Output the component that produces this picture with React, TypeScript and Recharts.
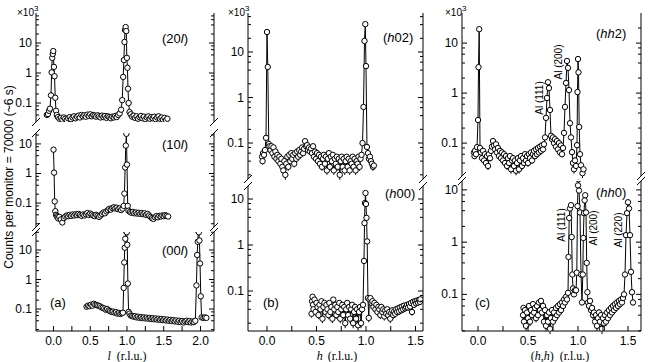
import { ErrorBar, Line, LineChart, XAxis, YAxis } from "recharts";

type Pair = [number, number];

// (20l) scan, counts x10^3 vs l
const l20: Pair[] = [
  [-0.09, 0.04], [-0.075, 0.043], [-0.06, 0.055], [-0.048, 0.065], [-0.034, 0.18], [-0.025, 1.05],
  [-0.017, 3.2], [-0.01, 4.3], [-0.003, 5.4], [0.006, 1.6], [0.014, 0.78], [0.024, 0.15],
  [0.034, 0.055], [0.045, 0.04], [0.06, 0.034], [0.08, 0.03], [0.1, 0.032], [0.12, 0.028],
  [0.14, 0.033], [0.16, 0.03], [0.18, 0.027], [0.2, 0.031], [0.22, 0.034], [0.24, 0.029],
  [0.26, 0.033], [0.28, 0.036], [0.3, 0.031], [0.32, 0.035], [0.34, 0.038], [0.36, 0.033],
  [0.38, 0.04], [0.4, 0.036], [0.42, 0.039], [0.44, 0.035], [0.46, 0.041], [0.48, 0.037],
  [0.5, 0.042], [0.52, 0.036], [0.54, 0.04], [0.56, 0.038], [0.58, 0.035], [0.6, 0.039],
  [0.62, 0.036], [0.64, 0.033], [0.66, 0.038], [0.68, 0.034], [0.7, 0.037], [0.72, 0.032],
  [0.74, 0.036], [0.76, 0.034], [0.78, 0.031], [0.8, 0.035], [0.82, 0.033], [0.84, 0.037],
  [0.86, 0.034], [0.88, 0.04], [0.9, 0.045], [0.92, 0.06], [0.935, 0.125], [0.948, 0.74],
  [0.958, 2.7], [0.966, 10.8], [0.974, 27], [0.982, 34], [0.99, 25], [0.998, 3.2],
  [1.006, 1.5], [1.014, 0.3], [1.022, 0.1], [1.035, 0.05], [1.05, 0.042], [1.07, 0.035],
  [1.09, 0.038], [1.11, 0.032], [1.13, 0.036], [1.15, 0.03], [1.17, 0.034], [1.19, 0.037],
  [1.21, 0.031], [1.23, 0.035], [1.25, 0.029], [1.27, 0.033], [1.29, 0.036], [1.31, 0.03],
  [1.33, 0.034], [1.35, 0.031], [1.37, 0.035], [1.39, 0.029], [1.41, 0.033], [1.43, 0.036],
  [1.45, 0.03], [1.47, 0.033], [1.49, 0.028], [1.51, 0.032], [1.53, 0.027], [1.55, 0.03],
];

// (10l) scan
const l10: Pair[] = [
  [0.0, 6.4], [0.008, 1.07], [0.016, 0.114], [0.025, 0.053], [0.035, 0.04], [0.045, 0.036],
  [0.055, 0.033], [0.065, 0.03], [0.08, 0.034], [0.1, 0.028], [0.12, 0.022], [0.14, 0.031],
  [0.16, 0.035], [0.18, 0.038], [0.2, 0.036], [0.22, 0.04], [0.24, 0.037], [0.26, 0.041],
  [0.28, 0.038], [0.3, 0.042], [0.32, 0.039], [0.34, 0.043], [0.36, 0.04], [0.38, 0.037],
  [0.4, 0.041], [0.42, 0.038], [0.44, 0.042], [0.46, 0.046], [0.48, 0.04], [0.5, 0.044],
  [0.52, 0.041], [0.54, 0.038], [0.56, 0.036], [0.58, 0.04], [0.6, 0.037], [0.62, 0.034],
  [0.64, 0.038], [0.66, 0.043], [0.68, 0.048], [0.7, 0.045], [0.72, 0.052], [0.74, 0.058],
  [0.76, 0.064], [0.78, 0.06], [0.8, 0.068], [0.82, 0.072], [0.84, 0.066], [0.86, 0.07],
  [0.88, 0.062], [0.9, 0.066], [0.92, 0.058], [0.94, 0.065], [0.955, 0.08], [0.965, 0.21],
  [0.975, 1.6], [0.984, 8.8], [0.992, 22], [1.0, 2.0], [1.01, 0.08], [1.02, 0.055],
  [1.04, 0.05], [1.06, 0.047], [1.08, 0.05], [1.1, 0.045], [1.12, 0.048], [1.14, 0.044],
  [1.16, 0.047], [1.18, 0.043], [1.2, 0.046], [1.22, 0.042], [1.24, 0.045], [1.26, 0.04],
  [1.28, 0.043], [1.3, 0.038], [1.32, 0.034], [1.34, 0.031], [1.36, 0.029], [1.38, 0.033],
  [1.4, 0.036], [1.42, 0.033], [1.44, 0.037], [1.46, 0.035], [1.48, 0.038], [1.5, 0.036],
  [1.52, 0.039], [1.54, 0.037], [1.56, 0.035],
];

// (00l) scan
const l00: Pair[] = [
  [0.45, 0.12], [0.47, 0.13], [0.49, 0.125], [0.51, 0.14], [0.53, 0.13], [0.55, 0.15],
  [0.57, 0.14], [0.59, 0.135], [0.61, 0.13], [0.63, 0.125], [0.65, 0.115], [0.67, 0.11],
  [0.69, 0.105], [0.71, 0.095], [0.73, 0.1], [0.75, 0.09], [0.77, 0.085], [0.79, 0.08],
  [0.81, 0.082], [0.83, 0.075], [0.85, 0.078], [0.87, 0.07], [0.89, 0.074], [0.91, 0.068],
  [0.93, 0.072], [0.945, 0.075], [0.955, 0.52], [0.963, 3.8], [0.97, 12], [0.977, 24],
  [0.984, 45], [0.99, 50], [0.997, 40], [1.004, 15], [1.012, 0.73], [1.022, 0.08],
  [1.035, 0.07], [1.05, 0.06], [1.07, 0.058], [1.09, 0.055], [1.11, 0.057], [1.13, 0.052],
  [1.15, 0.055], [1.17, 0.05], [1.19, 0.053], [1.21, 0.049], [1.23, 0.052], [1.25, 0.048],
  [1.27, 0.051], [1.29, 0.047], [1.31, 0.05], [1.33, 0.046], [1.35, 0.049], [1.37, 0.045],
  [1.39, 0.048], [1.41, 0.044], [1.43, 0.047], [1.45, 0.043], [1.47, 0.046], [1.49, 0.042],
  [1.51, 0.045], [1.53, 0.041], [1.55, 0.044], [1.57, 0.04], [1.59, 0.043], [1.61, 0.039],
  [1.63, 0.042], [1.65, 0.038], [1.67, 0.041], [1.69, 0.037], [1.71, 0.04], [1.73, 0.036],
  [1.75, 0.039], [1.77, 0.035], [1.79, 0.038], [1.81, 0.04], [1.83, 0.036], [1.85, 0.039],
  [1.87, 0.035], [1.89, 0.038], [1.91, 0.036], [1.93, 0.04], [1.945, 0.63], [1.955, 6.8],
  [1.963, 19], [1.97, 44], [1.978, 40], [1.986, 21], [1.994, 3.5], [2.004, 0.27],
  [2.015, 0.052], [2.04, 0.05], [2.06, 0.052], [2.08, 0.05],
];

// (h02) scan
const h02: Pair[] = [
  [-0.05, 0.05], [-0.045, 0.04], [-0.04, 0.06], [-0.03, 0.055], [-0.02, 0.07], [-0.01, 0.13],
  [0.0, 27.5], [0.008, 4.7], [0.018, 0.095], [0.025, 0.085], [0.035, 0.07], [0.045, 0.085],
  [0.055, 0.06], [0.065, 0.08], [0.075, 0.05], [0.085, 0.065], [0.095, 0.045], [0.105, 0.055],
  [0.115, 0.04], [0.125, 0.05], [0.135, 0.035], [0.145, 0.045], [0.155, 0.03], [0.165, 0.025],
  [0.175, 0.04], [0.185, 0.02], [0.195, 0.035], [0.205, 0.05], [0.215, 0.03], [0.225, 0.055],
  [0.235, 0.04], [0.245, 0.06], [0.255, 0.045], [0.265, 0.055], [0.275, 0.035], [0.285, 0.06],
  [0.295, 0.045], [0.305, 0.065], [0.315, 0.05], [0.325, 0.07], [0.335, 0.055], [0.345, 0.065],
  [0.355, 0.08], [0.365, 0.06], [0.375, 0.075], [0.385, 0.11], [0.395, 0.085], [0.405, 0.09],
  [0.415, 0.07], [0.425, 0.08], [0.435, 0.065], [0.445, 0.075], [0.455, 0.06], [0.465, 0.085],
  [0.475, 0.05], [0.485, 0.065], [0.495, 0.045], [0.505, 0.06], [0.515, 0.04], [0.525, 0.055],
  [0.535, 0.035], [0.545, 0.05], [0.555, 0.03], [0.565, 0.045], [0.575, 0.055], [0.585, 0.035],
  [0.595, 0.05], [0.605, 0.025], [0.615, 0.045], [0.625, 0.06], [0.635, 0.03], [0.645, 0.05],
  [0.655, 0.04], [0.665, 0.055], [0.675, 0.025], [0.685, 0.045], [0.695, 0.035], [0.705, 0.05],
  [0.715, 0.03], [0.725, 0.045], [0.735, 0.02], [0.745, 0.04], [0.755, 0.05], [0.765, 0.03],
  [0.775, 0.045], [0.785, 0.025], [0.795, 0.04], [0.805, 0.05], [0.815, 0.03], [0.825, 0.045],
  [0.835, 0.025], [0.845, 0.04], [0.855, 0.035], [0.865, 0.05], [0.875, 0.03], [0.885, 0.045],
  [0.895, 0.025], [0.905, 0.04], [0.915, 0.035], [0.925, 0.05], [0.935, 0.03], [0.945, 0.045],
  [0.955, 0.055], [0.965, 0.1], [0.975, 0.62], [0.985, 17.5], [0.993, 41], [1.0, 4.9],
  [1.01, 0.082], [1.02, 0.06], [1.03, 0.045], [1.04, 0.05], [1.05, 0.04], [1.06, 0.035],
  [1.07, 0.03], [1.08, 0.032],
];

// (h00) scan
const h00: Pair[] = [
  [0.45, 0.032], [0.455, 0.06], [0.46, 0.075], [0.465, 0.05], [0.47, 0.04], [0.48, 0.065],
  [0.49, 0.035], [0.5, 0.055], [0.51, 0.045], [0.52, 0.03], [0.53, 0.05], [0.54, 0.04],
  [0.55, 0.06], [0.56, 0.025], [0.57, 0.045], [0.58, 0.055], [0.59, 0.035], [0.6, 0.05],
  [0.61, 0.04], [0.62, 0.03], [0.63, 0.055], [0.64, 0.035], [0.65, 0.045], [0.66, 0.025],
  [0.67, 0.065], [0.68, 0.04], [0.69, 0.05], [0.7, 0.03], [0.71, 0.045], [0.72, 0.035],
  [0.73, 0.055], [0.74, 0.025], [0.75, 0.04], [0.76, 0.05], [0.77, 0.03], [0.78, 0.045],
  [0.79, 0.02], [0.8, 0.04], [0.81, 0.055], [0.82, 0.03], [0.83, 0.045], [0.84, 0.025],
  [0.85, 0.04], [0.86, 0.05], [0.87, 0.02], [0.88, 0.035], [0.89, 0.045], [0.9, 0.025],
  [0.91, 0.04], [0.92, 0.018], [0.93, 0.035], [0.94, 0.045], [0.95, 0.02], [0.96, 0.04],
  [0.97, 0.05], [0.98, 0.45], [0.985, 3], [0.99, 8.2], [0.995, 13.5], [1.0, 7.8],
  [1.005, 3.9], [1.012, 1.2], [1.02, 0.07], [1.028, 0.026], [1.035, 0.065], [1.045, 0.07],
  [1.055, 0.055], [1.065, 0.06], [1.075, 0.045], [1.085, 0.055], [1.095, 0.04], [1.105, 0.05],
  [1.115, 0.035], [1.125, 0.045], [1.135, 0.04], [1.145, 0.03], [1.155, 0.045], [1.165, 0.035],
  [1.175, 0.04], [1.185, 0.028], [1.195, 0.038], [1.205, 0.032], [1.215, 0.04], [1.225, 0.03],
  [1.235, 0.035], [1.245, 0.025], [1.255, 0.033], [1.265, 0.038], [1.275, 0.03], [1.285, 0.036],
  [1.295, 0.032], [1.305, 0.04], [1.315, 0.035], [1.325, 0.042], [1.335, 0.036], [1.345, 0.044],
  [1.355, 0.038], [1.365, 0.046], [1.375, 0.04], [1.385, 0.048], [1.395, 0.042], [1.405, 0.045],
  [1.415, 0.05], [1.425, 0.044], [1.435, 0.052], [1.445, 0.046], [1.455, 0.055], [1.465, 0.035],
  [1.475, 0.058], [1.485, 0.05], [1.495, 0.06], [1.505, 0.054], [1.515, 0.062], [1.525, 0.056],
  [1.535, 0.064], [1.545, 0.058], [1.55, 0.066],
];

// (hh2) scan
const hh2: Pair[] = [
  [-0.04, 0.065], [-0.035, 0.055], [-0.03, 0.07], [-0.02, 0.06], [-0.01, 0.083], [0.0, 0.29],
  [0.005, 3.3], [0.012, 19], [0.02, 0.08], [0.03, 0.065], [0.04, 0.05], [0.05, 0.07],
  [0.06, 0.045], [0.07, 0.06], [0.08, 0.04], [0.09, 0.055], [0.1, 0.035], [0.11, 0.06],
  [0.12, 0.05], [0.13, 0.07], [0.14, 0.085], [0.15, 0.11], [0.16, 0.09], [0.17, 0.075],
  [0.18, 0.095], [0.19, 0.065], [0.2, 0.08], [0.21, 0.055], [0.22, 0.07], [0.23, 0.05],
  [0.24, 0.065], [0.25, 0.045], [0.26, 0.06], [0.27, 0.04], [0.28, 0.055], [0.29, 0.035],
  [0.3, 0.05], [0.31, 0.04], [0.32, 0.055], [0.33, 0.03], [0.34, 0.045], [0.35, 0.05],
  [0.36, 0.035], [0.37, 0.045], [0.38, 0.028], [0.39, 0.04], [0.4, 0.05], [0.41, 0.03],
  [0.42, 0.045], [0.43, 0.055], [0.44, 0.035], [0.45, 0.05], [0.46, 0.04], [0.47, 0.06],
  [0.48, 0.045], [0.49, 0.055], [0.5, 0.04], [0.51, 0.06], [0.52, 0.05], [0.53, 0.065],
  [0.54, 0.045], [0.55, 0.06], [0.56, 0.07], [0.57, 0.055], [0.58, 0.075], [0.59, 0.06],
  [0.6, 0.08], [0.61, 0.065], [0.62, 0.085], [0.63, 0.07], [0.64, 0.09], [0.65, 0.075],
  [0.66, 0.095], [0.67, 0.13], [0.68, 0.32], [0.69, 0.8], [0.7, 1.65], [0.71, 1.26],
  [0.72, 0.46], [0.73, 0.14], [0.74, 0.12], [0.75, 0.13], [0.76, 0.1], [0.77, 0.12],
  [0.78, 0.085], [0.79, 0.11], [0.8, 0.075], [0.81, 0.1], [0.82, 0.065], [0.83, 0.09],
  [0.84, 0.06], [0.85, 0.08], [0.86, 0.16], [0.87, 0.53], [0.88, 1.6], [0.89, 4.4],
  [0.9, 3.2], [0.91, 1.15], [0.92, 0.25], [0.93, 0.13], [0.94, 0.066], [0.95, 0.04],
  [0.96, 0.03], [0.97, 0.045], [0.98, 0.035], [0.99, 0.091], [0.995, 1.05], [1.0, 4.8],
  [1.005, 2.6], [1.012, 0.21], [1.02, 0.06], [1.03, 0.036], [1.045, 0.025], [1.055, 0.03],
];

// (hh0) scan
const hh0: Pair[] = [
  [0.45, 0.04], [0.455, 0.055], [0.46, 0.03], [0.47, 0.05], [0.48, 0.025], [0.49, 0.045],
  [0.5, 0.035], [0.51, 0.06], [0.52, 0.03], [0.53, 0.05], [0.54, 0.04], [0.55, 0.065],
  [0.56, 0.045], [0.57, 0.055], [0.58, 0.035], [0.59, 0.06], [0.6, 0.04], [0.61, 0.07],
  [0.62, 0.05], [0.63, 0.075], [0.64, 0.045], [0.65, 0.06], [0.66, 0.03], [0.67, 0.05],
  [0.68, 0.025], [0.69, 0.04], [0.7, 0.03], [0.71, 0.045], [0.72, 0.022], [0.73, 0.035],
  [0.74, 0.05], [0.75, 0.03], [0.76, 0.045], [0.77, 0.035], [0.78, 0.055], [0.79, 0.04],
  [0.8, 0.06], [0.81, 0.045], [0.82, 0.065], [0.83, 0.05], [0.84, 0.07], [0.85, 0.06],
  [0.86, 0.08], [0.87, 0.07], [0.88, 0.09], [0.89, 0.08], [0.9, 0.107], [0.905, 0.52],
  [0.912, 2.9], [0.92, 4.4], [0.93, 5.1], [0.937, 1.25], [0.943, 0.24], [0.95, 0.13],
  [0.96, 0.1], [0.97, 0.12], [0.98, 0.12], [0.988, 0.26], [0.995, 4.9], [1.0, 12.2],
  [1.005, 16], [1.01, 9.7], [1.02, 3.7], [1.03, 0.24], [1.04, 0.07], [1.048, 0.24],
  [1.053, 1.2], [1.06, 3.6], [1.066, 6.3], [1.072, 7.9], [1.08, 3.7], [1.087, 0.4],
  [1.094, 0.11], [1.1, 0.07], [1.11, 0.06], [1.12, 0.075], [1.13, 0.05], [1.14, 0.055],
  [1.15, 0.04], [1.16, 0.045], [1.17, 0.03], [1.18, 0.04], [1.19, 0.025], [1.2, 0.035],
  [1.21, 0.045], [1.22, 0.03], [1.23, 0.04], [1.24, 0.022], [1.25, 0.035], [1.26, 0.028],
  [1.27, 0.04], [1.28, 0.03], [1.29, 0.045], [1.3, 0.035], [1.31, 0.05], [1.32, 0.04],
  [1.33, 0.055], [1.34, 0.045], [1.35, 0.06], [1.36, 0.05], [1.37, 0.065], [1.38, 0.055],
  [1.39, 0.07], [1.4, 0.06], [1.41, 0.075], [1.42, 0.065], [1.43, 0.08], [1.44, 0.07],
  [1.45, 0.085], [1.46, 0.1], [1.47, 0.24], [1.48, 1.36], [1.49, 3.6], [1.5, 5.8],
  [1.51, 4.4], [1.52, 1.36], [1.53, 0.27], [1.54, 0.11], [1.55, 0.07],
];

const xTicksA = [0, 0.25, 0.5, 0.75, 1, 1.25, 1.5, 1.75, 2];
const xTicksBC = [0, 0.25, 0.5, 0.75, 1, 1.25, 1.5];
const yTicks = [0.02, 0.04, 0.06, 0.08, 0.1, 0.2, 0.4, 0.6, 0.8, 1, 2, 4, 6, 8, 10, 20, 40, 60, 80];
const yLabels = [0.1, 1, 10];

const SANS = "'Liberation Sans', Arial, Helvetica, sans-serif";
const SERIF = "'Liberation Serif', 'Times New Roman', serif";

// poisson error on counts (values are in units of 10^3 counts)
const toPts = (pairs: Pair[]) => pairs.map(([x, y]) => ({ x, y, e: Math.sqrt(y / 1000) }));

const BottomTick = (p: any) => {
  const v = p.payload.value;
  const lab = Math.abs(v * 2 - Math.round(v * 2)) < 1e-6;
  return (
    <g>
      <line x1={p.x} x2={p.x} y1={p.y} y2={p.y - 5} stroke="#000" />
      {lab && (
        <text x={p.x} y={p.y + 14} textAnchor="middle" fontSize={12} fontFamily={SANS} fill="#000">
          {v.toFixed(1)}
        </text>
      )}
    </g>
  );
};

const TopTick = (p: any) => (
  <line x1={p.x} x2={p.x} y1={p.y} y2={p.y + 5} stroke="#000" />
);

const LeftTick = (p: any) => {
  const v = p.payload.value;
  const major = yLabels.includes(v);
  return (
    <g>
      <line x1={p.x} x2={p.x + (major ? 5 : 3)} y1={p.y} y2={p.y} stroke="#000" />
      {major && (
        <text x={p.x - 4} y={p.y + 4} textAnchor="end" fontSize={12} fontFamily={SANS} fill="#000">
          {String(v)}
        </text>
      )}
    </g>
  );
};

const RightTick = (p: any) => {
  const major = yLabels.includes(p.payload.value);
  return <line x1={p.x} x2={p.x - (major ? 5 : 3)} y1={p.y} y2={p.y} stroke="#000" />;
};

interface SubProps {
  pairs: Pair[];
  left: number;
  top: number;
  w: number;
  h: number;
  xd: [number, number];
  yd: [number, number];
  xt: number[];
  topAxis?: boolean;
  bottomAxis?: boolean;
  err?: boolean;
}

const PAD_L = 32;
const PAD_R = 6;
const PAD_T = 2;
const BOT = 18;

function SubPlot({ pairs, left, top, w, h, xd, yd, xt, topAxis, bottomAxis, err }: SubProps) {
  const yt = yTicks.filter((t) => t > yd[0] && t < yd[1]);
  const xtt = xt.filter((t) => t >= xd[0] && t <= xd[1]);
  const pts = toPts(pairs);
  return (
    <div style={{ position: "absolute", left: left - PAD_L, top: top - PAD_T }}>
      <LineChart
        width={PAD_L + w + PAD_R}
        height={h + PAD_T + (bottomAxis ? BOT : 2)}
        margin={{ top: PAD_T, right: 0, bottom: bottomAxis ? 0 : 2, left: 0 }}
      >
        <XAxis
          xAxisId="b"
          dataKey="x"
          type="number"
          domain={xd}
          allowDataOverflow
          ticks={xtt}
          interval={0}
          hide={!bottomAxis}
          height={BOT}
          tickSize={0}
          tickMargin={0}
          tickLine={false}
          axisLine={{ stroke: "#000" }}
          tick={BottomTick}
        />
        {topAxis && (
          <XAxis
            xAxisId="t"
            orientation="top"
            type="number"
            domain={xd}
            allowDataOverflow
            ticks={xtt}
            interval={0}
            height={0}
            tickSize={0}
            tickMargin={0}
            tickLine={false}
            axisLine={{ stroke: "#000" }}
            tick={TopTick}
          />
        )}
        <YAxis
          yAxisId="l"
          type="number"
          scale="log"
          domain={yd}
          allowDataOverflow
          ticks={yt}
          interval={0}
          width={PAD_L}
          tickSize={0}
          tickMargin={0}
          tickLine={false}
          axisLine={{ stroke: "#000" }}
          tick={LeftTick}
        />
        <YAxis
          yAxisId="r"
          orientation="right"
          type="number"
          scale="log"
          domain={yd}
          allowDataOverflow
          ticks={yt}
          interval={0}
          width={PAD_R}
          tickSize={0}
          tickMargin={0}
          tickLine={false}
          axisLine={{ stroke: "#000" }}
          tick={RightTick}
        />
        <Line
          xAxisId="b"
          yAxisId="l"
          data={pts}
          dataKey="y"
          type="linear"
          stroke="#000"
          strokeWidth={1}
          dot={{ r: 2.7, fill: "#fff", stroke: "#000", strokeWidth: 1 }}
          activeDot={false}
          isAnimationActive={false}
        >
          {err && <ErrorBar dataKey="e" direction="y" width={0} stroke="#000" strokeWidth={1} />}
        </Line>
      </LineChart>
    </div>
  );
}

const Breaks = ({ x, y }: { x: number; y: number }) => (
  <line x1={x - 4} y1={y + 4} x2={x + 4} y2={y - 4} stroke="#000" strokeWidth={1} />
);

const XUnit = ({ x, y }: { x: number; y: number }) => (
  <text x={x} y={y} fontSize={10} fontFamily={SANS}>
    ×10<tspan dy={-5} fontSize={8}>3</tspan>
  </text>
);

export default function App() {
  const aL = 36, aW = 178, aXd: [number, number] = [-0.238, 2.184];
  const bL = 248, bW = 175, bXd: [number, number] = [-0.192, 1.576];
  const cL = 462, cW = 179, cXd: [number, number] = [-0.16, 1.63];
  return (
    <div style={{ position: "absolute", left: 0, top: 0, width: 650, height: 362, background: "#fff" }}>
      <SubPlot pairs={l20} left={aL} top={13} w={aW} h={109} xd={aXd} yd={[0.0233, 100]} xt={xTicksA} topAxis />
      <SubPlot pairs={l10} left={aL} top={133} w={aW} h={94} xd={aXd} yd={[0.0155, 23.4]} xt={xTicksA} />
      <SubPlot pairs={l00} left={aL} top={232} w={aW} h={99} xd={aXd} yd={[0.018, 40.8]} xt={xTicksA} bottomAxis />

      <SubPlot pairs={h02} left={bL} top={13} w={bW} h={166} xd={bXd} yd={[0.0162, 72]} xt={xTicksBC} topAxis err />
      <SubPlot pairs={h00} left={bL} top={186} w={bW} h={145} xd={bXd} yd={[0.0135, 19.2]} xt={xTicksBC} bottomAxis err />

      <SubPlot pairs={hh2} left={cL} top={13} w={cW} h={163} xd={cXd} yd={[0.022, 40]} xt={xTicksBC} topAxis err />
      <SubPlot pairs={hh0} left={cL} top={181} w={cW} h={150} xd={cXd} yd={[0.0199, 14.8]} xt={xTicksBC} bottomAxis err />

      <svg width={650} height={362} style={{ position: "absolute", left: 0, top: 0, pointerEvents: "none" }}>
        {[aL, aL + aW].map((x) => (
          <g key={"a" + x}>
            <Breaks x={x} y={122} />
            <Breaks x={x} y={133} />
            <Breaks x={x} y={227} />
            <Breaks x={x} y={232} />
          </g>
        ))}
        {[bL, bL + bW].map((x) => (
          <g key={"b" + x}>
            <Breaks x={x} y={179} />
            <Breaks x={x} y={186} />
          </g>
        ))}
        {[cL, cL + cW].map((x) => (
          <g key={"c" + x}>
            <Breaks x={x} y={176} />
            <Breaks x={x} y={181} />
          </g>
        ))}

        <XUnit x={17} y={16} />
        <XUnit x={228} y={16} />
        <XUnit x={445} y={16} />

        <g fontFamily={SANS} fontSize={13} fill="#000">
          <text x={162} y={43}>(20<tspan fontStyle="italic">l</tspan>)</text>
          <text x={162} y={149}>(10<tspan fontStyle="italic">l</tspan>)</text>
          <text x={162} y={255}>(00<tspan fontStyle="italic">l</tspan>)</text>
          <text x={50} y={307}>(a)</text>
          <text x={383} y={42}>(<tspan fontStyle="italic">h</tspan>02)</text>
          <text x={385} y={198}>(<tspan fontStyle="italic">h</tspan>00)</text>
          <text x={263} y={307}>(b)</text>
          <text x={596} y={38}>(<tspan fontStyle="italic">hh</tspan>2)</text>
          <text x={596} y={197}>(<tspan fontStyle="italic">hh</tspan>0)</text>
          <text x={475} y={307}>(c)</text>
        </g>

        <g fontFamily={SANS} fontSize={10} fill="#000" textAnchor="middle">
          <text transform="translate(543,98) rotate(-90)">Al (111)</text>
          <text transform="translate(562,62) rotate(-90)">Al (200)</text>
          <text transform="translate(565,225) rotate(-90)">Al (111)</text>
          <text transform="translate(597,228) rotate(-90)">Al (200)</text>
          <text transform="translate(622,230) rotate(-90)">Al (220)</text>
        </g>

        <text transform="translate(13,177) rotate(-90)" textAnchor="middle" fontFamily={SANS} fontSize={12} fill="#000">
          Counts per monitor = 70000 (~6 s)
        </text>

        <g fontFamily={SERIF} fontSize={12} fill="#000" textAnchor="middle">
          <text x={127} y={360}>
            <tspan fontStyle="italic">l</tspan>
            <tspan dx={6}>(r.l.u.)</tspan>
          </text>
          <text x={337} y={360}>
            <tspan fontStyle="italic">h</tspan>
            <tspan dx={5}>(r.l.u.)</tspan>
          </text>
          <text x={560} y={360}>
            (<tspan fontStyle="italic">h</tspan>,<tspan fontStyle="italic">h</tspan>)
            <tspan dx={6}>(r.l.u.)</tspan>
          </text>
        </g>
      </svg>
    </div>
  );
}
